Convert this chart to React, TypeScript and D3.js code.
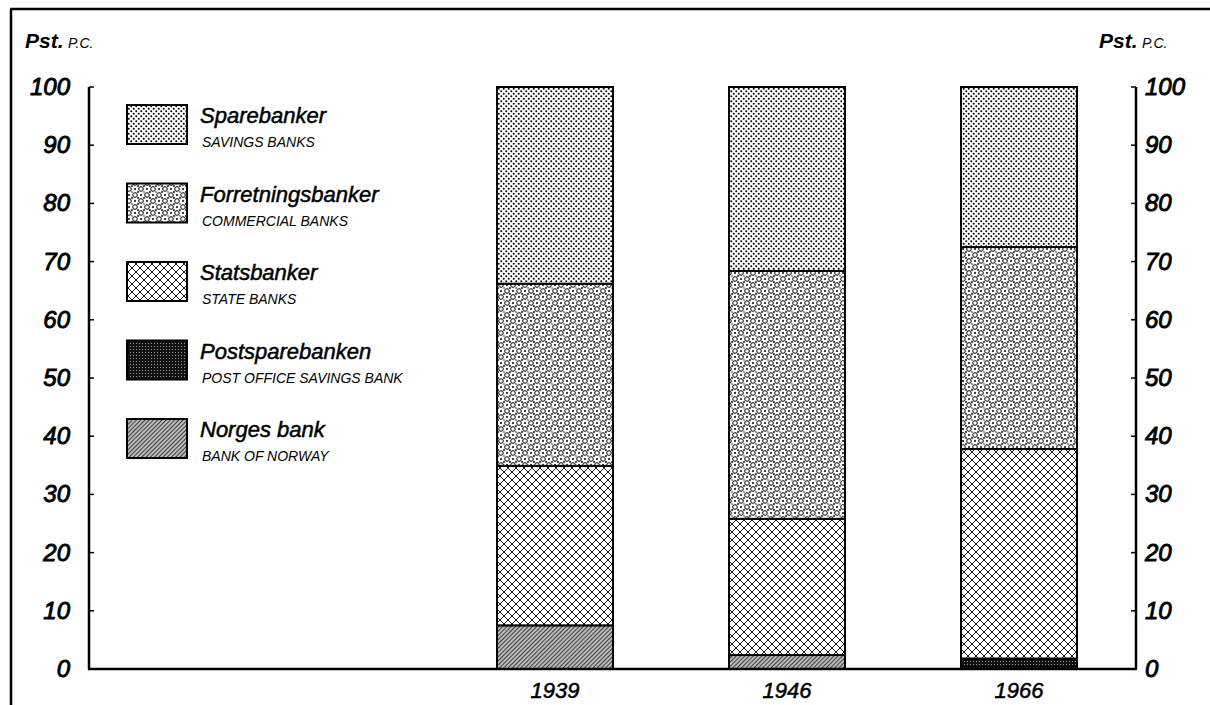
import React from "react";
import * as d3 from "d3";

const years = ["1939", "1946", "1966"];
const norgesBank = [7.5, 2.4, 0.4];
const postsparebanken = [0, 0, 1.4];
const statsbanker = [27.4, 23.4, 36.0];
const forretningsbanker = [31.3, 42.6, 34.7];
const sparebanker = [33.8, 31.6, 27.5];
const yTicks = [0, 10, 20, 30, 40, 50, 60, 70, 80, 90, 100];

const seriesKeys = ["norges", "post", "state", "commercial", "savings"];
const legendItems = [
  { key: "savings", no: "Sparebanker", en: "SAVINGS BANKS" },
  { key: "commercial", no: "Forretningsbanker", en: "COMMERCIAL BANKS" },
  { key: "state", no: "Statsbanker", en: "STATE BANKS" },
  { key: "post", no: "Postsparebanken", en: "POST OFFICE SAVINGS BANK" },
  { key: "norges", no: "Norges bank", en: "BANK OF NORWAY" },
];

const FONT = "'Liberation Sans', 'DejaVu Sans', sans-serif";

export default function App() {
  const table = years.map((yr, i) => ({
    year: yr,
    norges: norgesBank[i],
    post: postsparebanken[i],
    state: statsbanker[i],
    commercial: forretningsbanker[i],
    savings: sparebanker[i],
  }));
  const stacked = d3.stack<any>().keys(seriesKeys)(table as any);

  const x = d3.scaleBand().domain(years).range([439, 1135]).paddingInner(0.5).paddingOuter(0.25);
  const y = d3.scaleLinear().domain([0, 100]).range([669, 87]);
  const leftX = 89;
  const rightX = 1136;

  return (
    <svg width={1210} height={705} style={{ position: "absolute", left: 0, top: 0, background: "#fff" }}>
      <defs>
        <pattern id="p-savings" width="5" height="5" patternUnits="userSpaceOnUse">
          <rect width="5" height="5" fill="#fff" />
          <circle cx="1.25" cy="1.25" r="1.0" fill="#000" />
          <circle cx="3.75" cy="3.75" r="1.0" fill="#000" />
        </pattern>
        <pattern id="p-commercial" width="12" height="12" patternUnits="userSpaceOnUse">
          <rect width="12" height="12" fill="#fff" />
          <circle cx="3" cy="3" r="2.3" fill="none" stroke="#000" strokeWidth="1" />
          <circle cx="9" cy="9" r="2.3" fill="none" stroke="#000" strokeWidth="1" />
          <circle cx="9" cy="3" r="1" fill="#000" />
          <circle cx="3" cy="9" r="1" fill="#000" />
          <circle cx="6" cy="6" r="0.9" fill="#000" />
          <circle cx="0" cy="6" r="0.9" fill="#000" />
          <circle cx="6" cy="0" r="0.9" fill="#000" />
          <circle cx="6" cy="12" r="0.9" fill="#000" />
          <circle cx="12" cy="6" r="0.9" fill="#000" />
          <circle cx="0" cy="0" r="0.7" fill="#000" />
          <circle cx="12" cy="12" r="0.7" fill="#000" />
          <circle cx="12" cy="0" r="0.7" fill="#000" />
          <circle cx="0" cy="12" r="0.7" fill="#000" />
        </pattern>
        <pattern id="p-state" width="8" height="8" patternUnits="userSpaceOnUse">
          <rect width="8" height="8" fill="#fff" />
          <path d="M0,0 L8,8 M8,0 L0,8 M-1,7 L1,9 M7,-1 L9,1 M-1,1 L1,-1 M7,9 L9,7" stroke="#000" strokeWidth="0.9" />
        </pattern>
        <pattern id="p-post" width="3" height="3" patternUnits="userSpaceOnUse">
          <rect width="3" height="3" fill="#111" />
          <circle cx="1.5" cy="1.5" r="0.55" fill="#aaa" />
        </pattern>
        <pattern id="p-norges" width="3" height="3" patternUnits="userSpaceOnUse" patternTransform="rotate(45)">
          <rect width="3" height="3" fill="#bbb" />
          <line x1="0" y1="0" x2="0" y2="3" stroke="#111" strokeWidth="1.5" />
        </pattern>
      </defs>

      {/* frame */}
      <line x1={11} y1={9} x2={11} y2={705} stroke="#000" strokeWidth={2.5} />
      <line x1={10} y1={9} x2={1210} y2={9} stroke="#000" strokeWidth={2.5} />

      {/* unit labels */}
      <text x={25} y={48} fontFamily={FONT} fontStyle="italic" fontWeight="bold" fontSize={21}>Pst.</text>
      <text x={68} y={48} fontFamily={FONT} fontStyle="italic" fontSize={14}>P.C.</text>
      <text x={1099} y={48} fontFamily={FONT} fontStyle="italic" fontWeight="bold" fontSize={21}>Pst.</text>
      <text x={1142} y={48} fontFamily={FONT} fontStyle="italic" fontSize={14}>P.C.</text>

      {/* bars */}
      {stacked.map((s) => (
        <g key={s.key}>
          {s.map((d, i) => {
            const h = y(d[0]) - y(d[1]);
            if (h <= 0) return null;
            return (
              <rect
                key={i}
                x={x(years[i])!}
                y={y(d[1])}
                width={x.bandwidth()}
                height={h}
                fill={`url(#p-${s.key})`}
                stroke="#000"
                strokeWidth={2}
              />
            );
          })}
        </g>
      ))}

      {/* axes */}
      <line x1={leftX} y1={y(100)} x2={leftX} y2={y(0)} stroke="#000" strokeWidth={2.5} />
      <line x1={rightX} y1={y(100)} x2={rightX} y2={y(0)} stroke="#000" strokeWidth={2.5} />
      <line x1={leftX - 1} y1={y(0)} x2={rightX + 1} y2={y(0)} stroke="#000" strokeWidth={2.5} />
      {yTicks.map((t) => (
        <g key={t}>
          <line x1={leftX} y1={y(t)} x2={leftX + 5} y2={y(t)} stroke="#000" strokeWidth={1.5} />
          <line x1={rightX - 5} y1={y(t)} x2={rightX} y2={y(t)} stroke="#000" strokeWidth={1.5} />
          <text x={70} y={y(t) + 8} textAnchor="end" fontFamily={FONT} fontStyle="italic" fontSize={24} stroke="#000" strokeWidth={0.9}>{t}</text>
          <text x={1145} y={y(t) + 8} textAnchor="start" fontFamily={FONT} fontStyle="italic" fontSize={24} stroke="#000" strokeWidth={0.9}>{t}</text>
        </g>
      ))}
      {years.map((yr) => (
        <text key={yr} x={x(yr)! + x.bandwidth() / 2} y={698} textAnchor="middle" fontFamily={FONT} fontStyle="italic" fontSize={22} stroke="#000" strokeWidth={0.5}>{yr}</text>
      ))}

      {/* legend */}
      {legendItems.map((it, i) => {
        const top = 105 + i * 78.5;
        return (
          <g key={it.key}>
            <rect x={127} y={top} width={60} height={39} fill={`url(#p-${it.key})`} stroke="#000" strokeWidth={2} />
            <text x={200} y={top + 18} fontFamily={FONT} fontStyle="italic" fontSize={22} stroke="#000" strokeWidth={0.5}>{it.no}</text>
            <text x={202} y={top + 42} fontFamily={FONT} fontStyle="italic" fontSize={14}>{it.en}</text>
          </g>
        );
      })}
    </svg>
  );
}
